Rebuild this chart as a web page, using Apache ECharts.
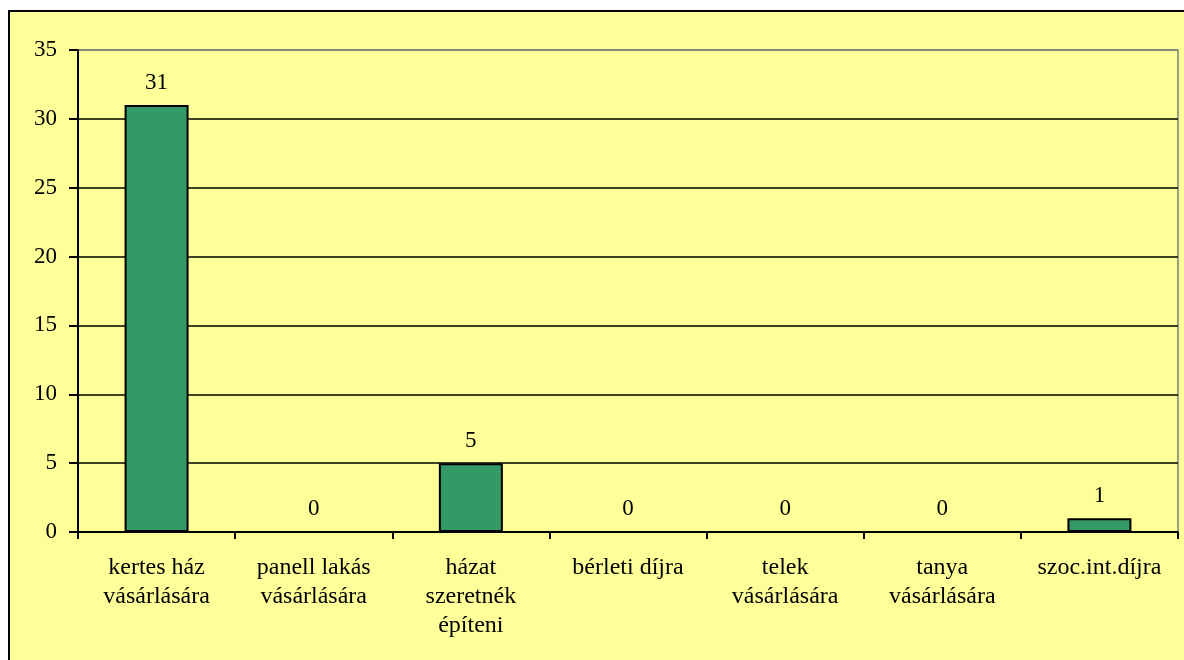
<!DOCTYPE html>
<html>
<head>
<meta charset="utf-8">
<script src="https://cdn.jsdelivr.net/npm/echarts@6/dist/echarts.min.js"></script>
<style>
  html, body { margin: 0; padding: 0; background: #fff; }
  #chart { width: 1184px; height: 660px; }
</style>
</head>
<body>
<div id="chart"></div>
<script>
const categories = ['kertes ház\nvásárlására', 'panell lakás\nvásárlására', 'házat\nszeretnék\népíteni', 'bérleti díjra', 'telek\nvásárlására', 'tanya\nvásárlására', 'szoc.int.díjra'];
const values = [31, 0, 5, 0, 0, 0, 1];
const yTicks = [0, 5, 10, 15, 20, 25, 30, 35];

const font = '"Liberation Serif", "DejaVu Serif", serif';
const chart = echarts.init(document.getElementById('chart'));
chart.setOption({
    animation: false,
    backgroundColor: '#fff',
    graphic: [{
        type: 'rect',
        z: -10,
        shape: { x: 9, y: 11, width: 1200, height: 700 },
        style: { fill: '#FFFF99', stroke: '#000', lineWidth: 2 }
    }],
    grid: {
        left: 78, right: 6, top: 50, bottom: 128,
        show: true, borderColor: '#808080', borderWidth: 1.5, backgroundColor: 'transparent'
    },
    xAxis: {
        type: 'category',
        data: categories,
        axisLine: { lineStyle: { color: '#000', width: 2 } },
        axisTick: { show: true, length: 7, lineStyle: { color: '#000', width: 2 } },
        axisLabel: { color: '#000', fontFamily: font, fontSize: 24, lineHeight: 29, margin: 21, interval: 0 }
    },
    yAxis: {
        type: 'value',
        min: yTicks[0], max: yTicks[yTicks.length - 1], interval: 5,
        axisLine: { show: true, lineStyle: { color: '#000', width: 2 } },
        axisTick: { show: true, length: 9, lineStyle: { color: '#000', width: 2 } },
        axisLabel: { color: '#000', fontFamily: font, fontSize: 23, margin: 21 },
        splitLine: { lineStyle: { color: ['#000', '#000', '#000', '#000', '#000', '#000', '#000', '#808080'], width: 1.5 } }
    },
    series: [{
        type: 'bar',
        data: values,
        barWidth: 64,
        itemStyle: { color: '#339966', borderColor: '#000', borderWidth: 2 },
        label: { show: true, position: 'top', distance: 11, color: '#000', fontFamily: font, fontSize: 23 }
    }]
});
</script>
</body>
</html>
